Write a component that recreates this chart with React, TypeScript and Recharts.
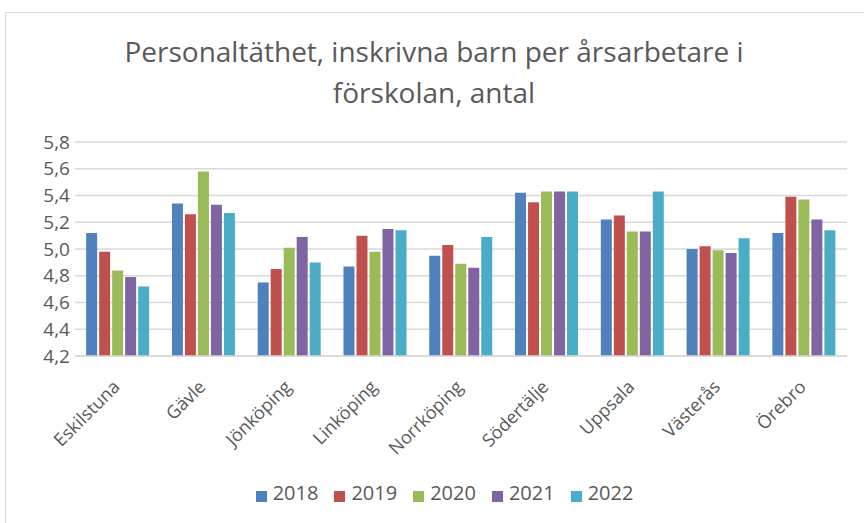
import { BarChart, Bar, XAxis, YAxis, CartesianGrid, Legend } from "recharts";

const kommuner = ["Eskilstuna", "Gävle", "Jönköping", "Linköping", "Norrköping", "Södertälje", "Uppsala", "Västerås", "Örebro"];
const v2018 = [5.12, 5.34, 4.75, 4.87, 4.95, 5.42, 5.22, 5.0, 5.12];
const v2019 = [4.98, 5.26, 4.85, 5.1, 5.03, 5.35, 5.25, 5.02, 5.39];
const v2020 = [4.84, 5.58, 5.01, 4.98, 4.89, 5.43, 5.13, 4.99, 5.37];
const v2021 = [4.79, 5.33, 5.09, 5.15, 4.86, 5.43, 5.13, 4.97, 5.22];
const v2022 = [4.72, 5.27, 4.9, 5.14, 5.09, 5.43, 5.43, 5.08, 5.14];
const yTicks = [4.2, 4.4, 4.6, 4.8, 5.0, 5.2, 5.4, 5.6, 5.8];

const series = [
  { key: "2018", color: "#4F81BD" },
  { key: "2019", color: "#C0504D" },
  { key: "2020", color: "#9BBB59" },
  { key: "2021", color: "#8064A2" },
  { key: "2022", color: "#4BACC6" },
];

const data = kommuner.map((name, i) => ({
  name,
  "2018": v2018[i],
  "2019": v2019[i],
  "2020": v2020[i],
  "2021": v2021[i],
  "2022": v2022[i],
}));

const font = "'Open Sans', sans-serif";
const textColor = "#595959";

const CategoryTick = (props: any) => {
  const { x, y, payload } = props;
  const tx = x + 3;
  const ty = y + 24;
  return (
    <text
      x={tx}
      y={ty}
      transform={`rotate(-45, ${tx}, ${ty})`}
      textAnchor="end"
      fill={textColor}
      fontSize={18}
      fontFamily={font}
    >
      {payload.value}
    </text>
  );
};

export default function App() {
  return (
    <div style={{ position: "absolute", left: 0, top: 0, width: 864, height: 523, background: "#fff" }}>
      <div
        style={{
          position: "absolute",
          left: 5,
          top: 12,
          width: 870,
          height: 520,
          border: "1px solid #D9D9D9",
          boxSizing: "border-box",
        }}
      />
      <div
        style={{
          position: "absolute",
          left: 5,
          top: 31,
          width: 858,
          textAlign: "center",
          fontFamily: font,
          fontSize: 28,
          lineHeight: "41px",
          color: textColor,
        }}
      >
        Personaltäthet, inskrivna barn per årsarbetare i
        <br />
        förskolan, antal
      </div>
      <div style={{ position: "absolute", left: 0, top: 0 }}>
        <BarChart
          width={864}
          height={523}
          data={data}
          margin={{ top: 142, right: 17, left: 30, bottom: 14 }}
          barCategoryGap="13%"
          barGap={2}
        >
          <CartesianGrid vertical={false} stroke="#D9D9D9" strokeWidth={1.5} />
          <XAxis
            dataKey="name"
            height={123}
            interval={0}
            tickLine={false}
            axisLine={{ stroke: "#D9D9D9", strokeWidth: 1.5 }}
            tick={<CategoryTick />}
          />
          <YAxis
            width={45}
            domain={[4.2, 5.8]}
            ticks={yTicks}
            interval={0}
            allowDataOverflow
            axisLine={false}
            tickLine={false}
            tickSize={0}
            tickMargin={5}
            tick={{ fill: textColor, fontSize: 19, fontFamily: font }}
            tickFormatter={(v: number) => v.toFixed(1).replace(".", ",")}
          />
          <Legend
            verticalAlign="bottom"
            height={30}
            iconType="square"
            iconSize={11}
            wrapperStyle={{ paddingLeft: 14 }}
            formatter={(value: string) => (
              <span style={{ color: textColor, fontSize: 20, fontFamily: font, marginLeft: 2, marginRight: 6 }}>{value}</span>
            )}
          />
          {series.map((s) => (
            <Bar key={s.key} dataKey={s.key} fill={s.color} isAnimationActive={false} />
          ))}
        </BarChart>
      </div>
    </div>
  );
}
